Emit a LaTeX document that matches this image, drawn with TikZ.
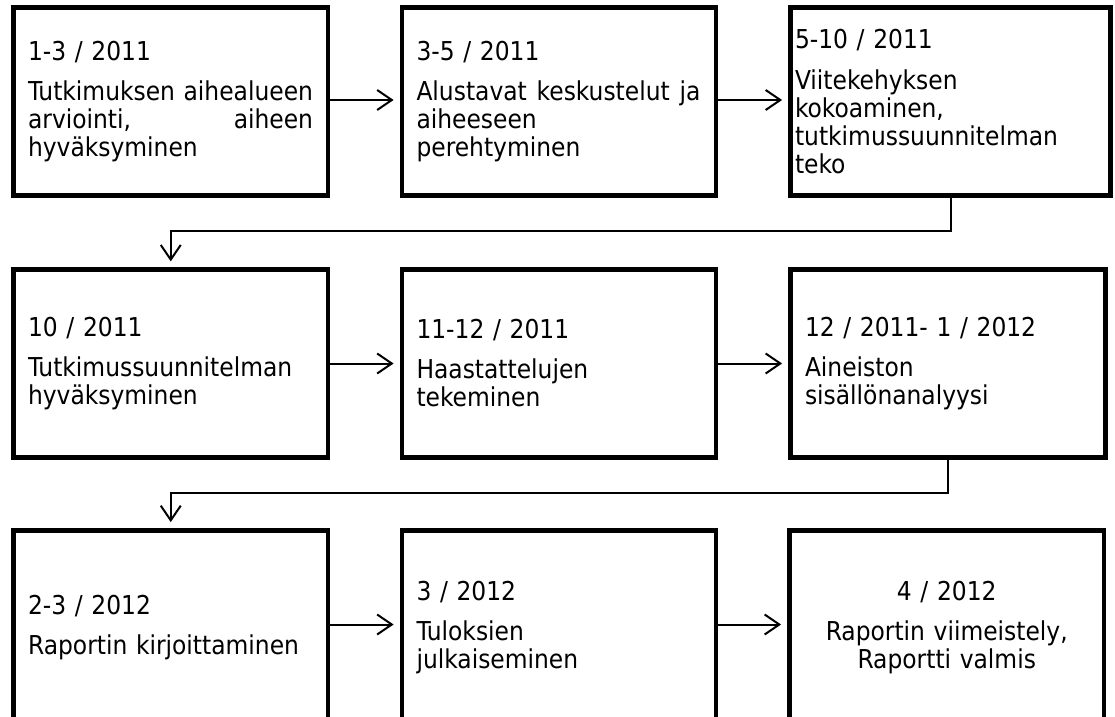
\documentclass[tikz,border=0pt]{standalone}
\usepackage{fontspec}
\setmainfont{DejaVu Sans Condensed}
\usetikzlibrary{arrows.meta}
\newlength\jw
\begin{document}
\begin{tikzpicture}[x=0.75pt,y=-0.75pt,
  phase/.style={draw=black, line width=3.6pt, rectangle, inner sep=0pt,
    minimum height=140.6pt, align=left,
    font=\fontsize{19.5}{21}\selectfont},
  col1/.style={phase, minimum width=235.9pt, text width=214pt},
  col2/.style={phase, minimum width=235.5pt, text width=213.75pt},
  lastrow/.style={minimum height=146.25pt},
  flow/.style={line width=1.5pt, shorten >=4.5pt,
    -{Straight Barb[length=11pt,width=15pt,line width=1.5pt]}}]
\useasboundingbox (0,0) rectangle (1115,717);
\clip (0,0) rectangle (1115,717);

% first row
\node[col1] (b1) at (170.75,101.5) {1-3 / 2011\\[9.5pt]%
  \settowidth\jw{Tutkimuksen aihealueen}Tutkimuksen aihealueen\\
  \makebox[\jw][l]{arviointi,\hfill aiheen}\\
  hyväksyminen};
\node[col2] (b2) at (559,101.5) {3-5 / 2011\\[9.5pt]%
  \makebox[213pt][l]{Alustavat\hfill keskustelut\hfill ja}\\
  aiheeseen\\
  perehtyminen};
\node[phase, minimum width=240pt, text width=233.25pt] (b3) at (950.5,101.5)
  {5-10 / 2011\\[9.5pt]Viitekehyksen\\kokoaminen,\\tutkimussuunnitelman\\teko};

% second row
\node[col1] (b4) at (170.75,363.5) {10 / 2011\\[9pt]Tutkimussuunnitelman\\hyväksyminen};
\node[col2] (b5) at (559,363.5) {11-12 / 2011\\[9pt]Haastattelujen\\tekeminen};
\node[phase, minimum width=236.25pt, text width=214.5pt] (b6) at (948,363.5)
  {12 / 2011- 1 / 2012\\[9pt]Aineiston\\sisällönanalyysi};

% third row (runs past the lower edge)
\node[col1, lastrow] (b7) at (170.75,628) {2-3 / 2012\\[9pt]Raportin kirjoittaminen};
\node[col2, lastrow] (b8) at (559,628) {3 / 2012\\[9pt]Tuloksien\\julkaiseminen};
\node[col1, lastrow, align=center] (b9) at (946.75,628)
  {4 / 2012\\[9pt]Raportin viimeistely,\\Raportti valmis};

% connectors
\coordinate (r1) at (0,231);
\coordinate (r2) at (0,493);
\draw[flow] (b1.east |- 0,100) -- (b2.west |- 0,100);
\draw[flow] (b2.east |- 0,100) -- (b3.west |- 0,100);
\draw[flow] (b4) -- (b5);
\draw[flow] (b5) -- (b6);
\draw[flow] (b7.east |- 0,624.5) -- (b8.west |- 0,624.5);
\draw[flow] (b8.east |- 0,624.5) -- (b9.west |- 0,624.5);
\draw[flow] (b3.south) -- (b3.south |- r1) -| (b4.north);
\draw[flow] (b6.south) -- (b6.south |- r2) -| (b7.north);
\end{tikzpicture}
\end{document}
